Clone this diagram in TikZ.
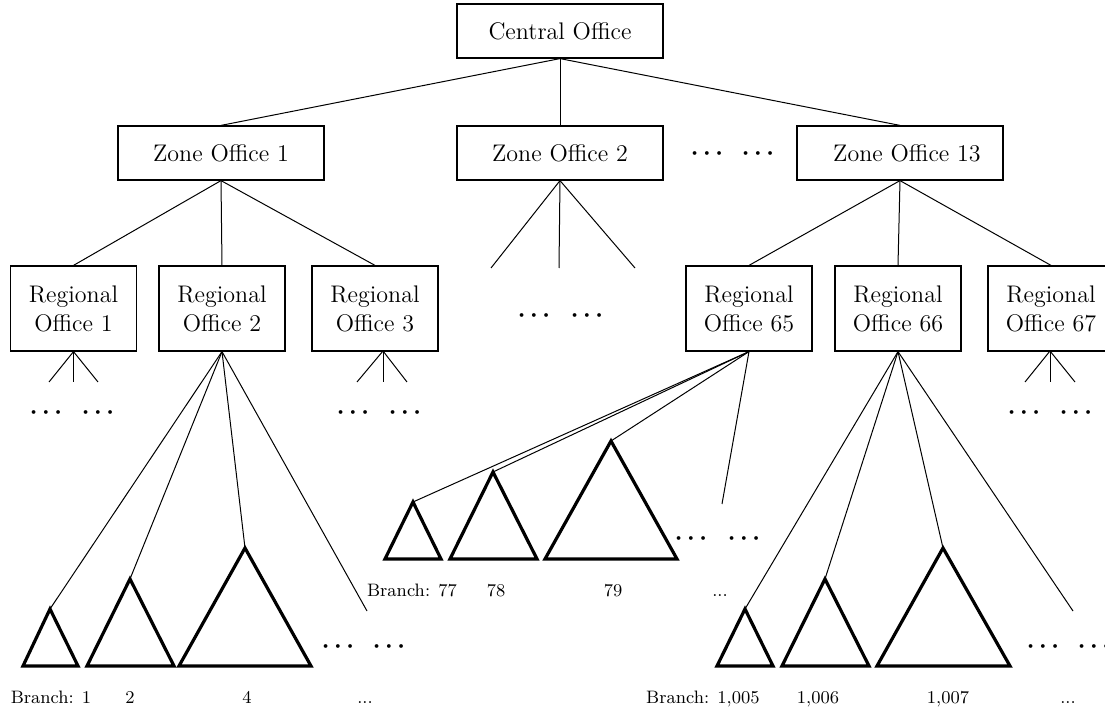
\documentclass[tikz,border=0pt]{standalone}
\begin{document}
\begin{tikzpicture}[x=0.5pt,y=-0.5pt,
  office/.style={draw,line width=0.6pt,inner sep=0pt,font=\fontsize{12}{14.5}\selectfont,align=center},
  zonebox/.style={office,minimum width=103pt,minimum height=27pt},
  regbox/.style={office,minimum width=63pt,minimum height=42.5pt},
  link/.style={line width=0.5pt},
  tri/.style={line width=1.6pt,line join=miter},
  dotsnode/.style={inner sep=0pt,anchor=base,font=\fontsize{12}{14.5}\selectfont\boldmath},
  blabel/.style={inner sep=0pt,anchor=base,font=\fontsize{9}{11}\selectfont}]
\useasboundingbox (0,0) rectangle (1105,711);
\clip (0,0) rectangle (1105,711);

% offices
\node[zonebox] (C) at (560,31) {Central Office};
\node[zonebox] (Z1) at (221,153) {Zone Office 1};
\node[zonebox] (Z2) at (560,153) {Zone Office 2};
\node[zonebox] (Z13) at (900,153) {\hspace*{7pt}Zone Office 13};
\node[dotsnode] (zd1) at (707,160) {$\cdots$};
\node[dotsnode] (zd2) at (758,160) {$\cdots$};

\node[regbox] (R1) at (73.5,308.5) {Regional\\Office 1};
\node[regbox] (R2) at (222,308.5) {Regional\\Office 2};
\node[regbox] (R3) at (375,308.5) {Regional\\Office 3};
\node[regbox] (R65) at (749,308.5) {Regional\\Office 65};
\node[regbox] (R66) at (898,308.5) {Regional\\Office 66};
\node[regbox] (R67) at (1051,308.5) {Regional\\Office 67};

% top connectors
\draw[link] (C.south) -- (Z1.north);
\draw[link] (C.south) -- (Z2.north);
\draw[link] (C.south) -- (Z13.north);
\draw[link] (Z1.south) -- (R1.north);
\draw[link] (Z1.south) -- (R2.north);
\draw[link] (Z1.south) -- (R3.north);
\draw[link] (Z13.south) -- (R65.north);
\draw[link] (Z13.south) -- (R66.north);
\draw[link] (Z13.south) -- (R67.north);

% Zone 2 fan
\coordinate (z2a) at (491,268);
\coordinate (z2b) at (559,268);
\coordinate (z2c) at (635,268);
\draw[link] (Z2.south) -- (z2a);
\draw[link] (Z2.south) -- (z2b);
\draw[link] (Z2.south) -- (z2c);
\node[dotsnode] (z2d1) at (534,322) {$\cdots$};
\node[dotsnode] (z2d2) at (587,322) {$\cdots$};

% R1 fan
\coordinate (r1a) at (49,382);
\coordinate (r1b) at (73.5,382);
\coordinate (r1c) at (98,382);
\draw[link] (R1.south) -- (r1a);
\draw[link] (R1.south) -- (r1b);
\draw[link] (R1.south) -- (r1c);
\node[dotsnode] (r1d1) at (46,419) {$\cdots$};
\node[dotsnode] (r1d2) at (98,419) {$\cdots$};

% R3 fan
\coordinate (r3o) at (383,351);
\coordinate (r3a) at (357,382);
\coordinate (r3b) at (383,382);
\coordinate (r3c) at (407,382);
\draw[link] (r3o) -- (r3a);
\draw[link] (r3o) -- (r3b);
\draw[link] (r3o) -- (r3c);
\node[dotsnode] (r3d1) at (353,419) {$\cdots$};
\node[dotsnode] (r3d2) at (405,419) {$\cdots$};

% R67 fan
\coordinate (r67o) at (1050,351);
\coordinate (r67a) at (1025,382);
\coordinate (r67b) at (1050,382);
\coordinate (r67c) at (1075,382);
\draw[link] (r67o) -- (r67a);
\draw[link] (r67o) -- (r67b);
\draw[link] (r67o) -- (r67c);
\node[dotsnode] (r67d1) at (1024,419) {$\cdots$};
\node[dotsnode] (r67d2) at (1076,419) {$\cdots$};

% R2 branches
\coordinate (b1) at (50,609);
\coordinate (b2) at (130,579);
\coordinate (b4) at (245,548);
\coordinate (r2e) at (367,611);
\draw[tri] (b1) -- (23,666) -- (78,666) -- cycle;
\draw[tri] (b2) -- (87,666) -- (174,666) -- cycle;
\draw[tri] (b4) -- (179,666) -- (311,666) -- cycle;
\draw[link] (R2.south) -- (b1);
\draw[link] (R2.south) -- (b2);
\draw[link] (R2.south) -- (b4);
\draw[link] (R2.south) -- (r2e);
\node[dotsnode] (bd1) at (338,653) {$\cdots$};
\node[dotsnode] (bd2) at (389,653) {$\cdots$};
\node[blabel] (l1) at (51,704) {Branch: 1};
\node[blabel] (l2) at (130,704) {2};
\node[blabel] (l4) at (247,704) {4};
\node[blabel] (l5) at (365,704) {...};

% R65 branches
\coordinate (b77) at (413,502);
\coordinate (b78) at (493,472);
\coordinate (b79) at (611,441);
\coordinate (r65e) at (722,504);
\draw[tri] (b77) -- (385,559) -- (441,559) -- cycle;
\draw[tri] (b78) -- (450,559) -- (537,559) -- cycle;
\draw[tri] (b79) -- (545,559) -- (677,559) -- cycle;
\draw[link] (R65.south) -- (b77);
\draw[link] (R65.south) -- (b78);
\draw[link] (R65.south) -- (b79);
\draw[link] (R65.south) -- (r65e);
\node[dotsnode] (md1) at (691,545) {$\cdots$};
\node[dotsnode] (md2) at (744,545) {$\cdots$};
\node[blabel] (l77) at (412,597) {Branch: 77};
\node[blabel] (l78) at (496,597) {78};
\node[blabel] (l79) at (613,597) {79};
\node[blabel] (l80) at (720,597) {...};

% R66 branches
\coordinate (b1005) at (745,609);
\coordinate (b1006) at (825,579);
\coordinate (b1007) at (943,548);
\coordinate (r66e) at (1073,611);
\draw[tri] (b1005) -- (717,666) -- (773,666) -- cycle;
\draw[tri] (b1006) -- (782,666) -- (869,666) -- cycle;
\draw[tri] (b1007) -- (877,666) -- (1010,666) -- cycle;
\draw[link] (R66.south) -- (b1005);
\draw[link] (R66.south) -- (b1006);
\draw[link] (R66.south) -- (b1007);
\draw[link] (R66.south) -- (r66e);
\node[dotsnode] (rd1) at (1043,653) {$\cdots$};
\node[dotsnode] (rd2) at (1094,653) {$\cdots$};
\node[blabel,anchor=base east] (l1005) at (760,704) {Branch: 1,005};
\node[blabel] (l1006) at (818,704) {1,006};
\node[blabel] (l1007) at (948,704) {1,007};
\node[blabel] (l1008) at (1068,704) {...};
\end{tikzpicture}
\end{document}
